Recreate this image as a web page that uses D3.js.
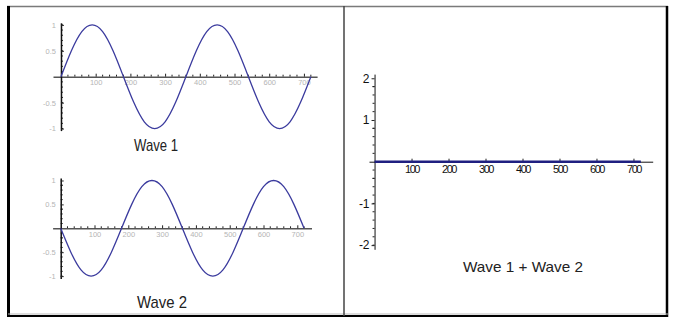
<!DOCTYPE html>
<html>
<head>
<meta charset="utf-8">
<script src="https://cdn.jsdelivr.net/npm/d3@7"></script>
<style>
  body { margin: 0; background: #fff; }
  svg { display: block; font-family: "Liberation Sans", Arial, sans-serif; }
</style>
</head>
<body>
<script>
// angle in degrees, sampled every 30
const degrees = [0, 30, 60, 90, 120, 150, 180, 210, 240, 270, 300, 330, 360,
  390, 420, 450, 480, 510, 540, 570, 600, 630, 660, 690, 720]
const wave1 = [0, 0.5, 0.87, 1, 0.87, 0.5, 0, -0.5, -0.87, -1, -0.87, -0.5, 0,
  0.5, 0.87, 1, 0.87, 0.5, 0, -0.5, -0.87, -1, -0.87, -0.5, 0]
const wave2 = [0, -0.5, -0.87, -1, -0.87, -0.5, 0, 0.5, 0.87, 1, 0.87, 0.5, 0,
  -0.5, -0.87, -1, -0.87, -0.5, 0, 0.5, 0.87, 1, 0.87, 0.5, 0]
const waveSum = [0, 0, 0, 0, 0, 0, 0, 0, 0, 0, 0, 0, 0,
  0, 0, 0, 0, 0, 0, 0, 0, 0, 0, 0, 0]

const xTicks = [100, 200, 300, 400, 500, 600, 700]
const yTicksSmall = [-1, -0.5, 0.5, 1]
const yTicksBig = [-2, -1, 1, 2]

const width = 675
const height = 324

const svg = d3.select('body').append('svg')
  .attr('width', width)
  .attr('height', height)

// -- frame
svg.append('line').attr('x1', 7).attr('x2', 668).attr('y1', 6.5).attr('y2', 6.5)
  .attr('stroke', '#7a7a7a').attr('stroke-width', 1.5)
svg.append('line').attr('x1', 8.5).attr('x2', 8.5).attr('y1', 6).attr('y2', 317)
  .attr('stroke', '#000').attr('stroke-width', 3)
svg.append('line').attr('x1', 667).attr('x2', 667).attr('y1', 6).attr('y2', 317)
  .attr('stroke', '#000').attr('stroke-width', 2.5)
svg.append('line').attr('x1', 7).attr('x2', 668).attr('y1', 316).attr('y2', 316)
  .attr('stroke', '#000').attr('stroke-width', 2)
svg.append('line').attr('x1', 8).attr('x2', 668).attr('y1', 314).attr('y2', 314)
  .attr('stroke', '#bbb').attr('stroke-width', 1)
svg.append('line').attr('x1', 344).attr('x2', 344).attr('y1', 6).attr('y2', 316)
  .attr('stroke', '#444').attr('stroke-width', 1.5)

const panels = [
  { values: wave1, title: 'Wave 1', xd: [-23, 738], xr: [53, 317.1], yd: [-1.04, 1.04], yr: [130.6, 22.8],
    yTicks: yTicksSmall, yMinor: 0.1, small: true, tx: 156, ty: 151, tl: 44 },
  { values: wave2, title: 'Wave 2', xd: [-24, 742], xr: [52.6, 311.5], yd: [-1.05, 1.05], yr: [278.5, 178.1],
    yTicks: yTicksSmall, yMinor: 0.1, small: true, tx: 162, ty: 308, tl: 50 },
  { values: waveSum, title: 'Wave 1 + Wave 2', xd: [-15, 752], xr: [369, 652.7], yd: [-2.1, 2.1], yr: [249.3, 74.1],
    yTicks: yTicksBig, yMinor: 0.2, small: false, tx: 523, ty: 272, tl: 120 },
]

panels.forEach((p) => {
  const x = d3.scaleLinear().domain(p.xd).range(p.xr)
  const y = d3.scaleLinear().domain(p.yd).range(p.yr)
  const g = svg.append('g')

  const labelColor = p.small ? '#b5b5b5' : '#111'
  const fontSize = p.small ? 7.5 : 11

  // minor ticks
  const xMinor = d3.range(20, 721, 20).filter((d) => d % 100 !== 0)
  const yMinor = d3.range(p.yd[0], p.yd[1], p.yMinor)
    .map((d) => Math.round(d / p.yMinor) * p.yMinor)
    .filter((d) => d >= -Math.abs(p.yd[0]) + 0.01 && Math.abs(d) > 0.01)
  if (p.small) {
    g.selectAll('.xm').data(xMinor).join('line')
      .attr('x1', (d) => x(d)).attr('x2', (d) => x(d))
      .attr('y1', y(0)).attr('y2', y(0) - 2)
      .attr('stroke', '#222').attr('stroke-width', 1)
  }
  g.selectAll('.ym').data(yMinor).join('line')
    .attr('x1', x(0)).attr('x2', x(0) + (p.small ? 2 : -2))
    .attr('y1', (d) => y(d)).attr('y2', (d) => y(d))
    .attr('stroke', '#222').attr('stroke-width', 1)

  // x axis
  const xAxis = g.append('g')
    .attr('transform', `translate(0,${y(0)})`)
    .call(d3.axisBottom(x).tickValues(xTicks).tickSize(-3).tickSizeOuter(0).tickPadding(p.small ? 3 : 4))
  xAxis.select('.domain').attr('stroke', p.small ? '#555' : '#111').attr('stroke-width', p.small ? 1.5 : 1)
  xAxis.selectAll('.tick line').attr('stroke', '#222')
  xAxis.selectAll('.tick text')
    .attr('fill', labelColor).attr('font-size', fontSize)
    .attr('font-family', 'Liberation Sans, Arial, sans-serif')
    .attr('letter-spacing', p.small ? 0 : -1.5)

  // y axis
  const yAxis = g.append('g')
    .attr('transform', `translate(${x(0)},0)`)
    .call(p.small
      ? d3.axisLeft(y).tickValues(p.yTicks).tickSize(-3).tickSizeOuter(0).tickPadding(5)
      : d3.axisLeft(y).tickValues(p.yTicks).tickSize(3).tickSizeOuter(0).tickPadding(2))
  yAxis.select('.domain').attr('stroke', '#111').attr('stroke-width', p.small ? 1.5 : 1)
  yAxis.selectAll('.tick line').attr('stroke', '#222')
  yAxis.selectAll('.tick text')
    .attr('fill', labelColor).attr('font-size', p.small ? 7.5 : 12)
    .attr('font-family', 'Liberation Sans, Arial, sans-serif')
    .text((d) => (d < 0 ? '-' : '') + Math.abs(d))

  // curve
  const line = d3.line()
    .x((d, i) => x(degrees[i]))
    .y((d) => y(d))
    .curve(d3.curveNatural)
  g.append('path')
    .datum(p.values)
    .attr('fill', 'none')
    .attr('stroke', p.small ? '#3b3b9e' : '#1f1f80')
    .attr('stroke-width', p.small ? 1.3 : 2.6)
    .attr('d', line)

  // title
  g.append('text')
    .attr('x', p.tx).attr('y', p.ty)
    .attr('text-anchor', 'middle')
    .attr('font-size', p.small ? 17 : 15)
    .attr('fill', '#222')
    .attr('textLength', p.tl)
    .attr('lengthAdjust', 'spacingAndGlyphs')
    .text(p.title)
})
</script>
</body>
</html>
